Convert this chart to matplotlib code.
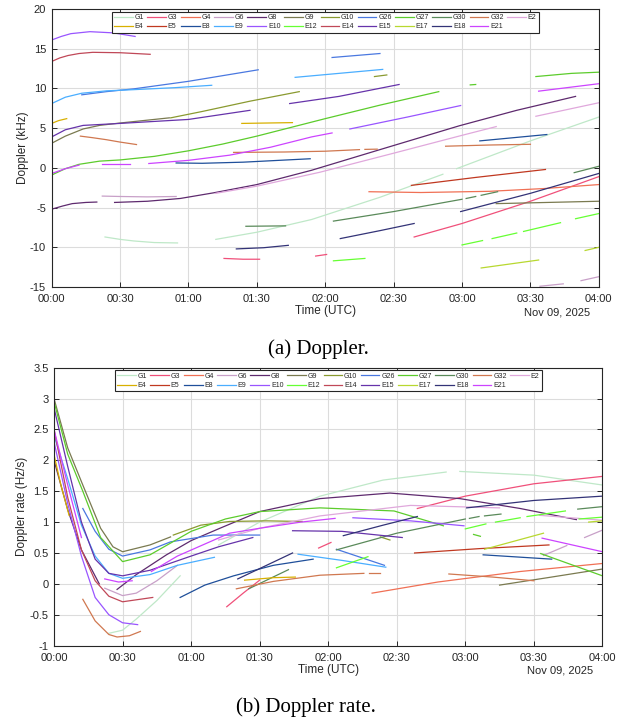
import matplotlib
matplotlib.use("Agg")
import matplotlib.pyplot as plt
from matplotlib.ticker import MultipleLocator, FuncFormatter

plt.rcParams['font.family'] = ['Liberation Sans', 'DejaVu Sans']

sats = ["G1", "G3", "G4", "G6", "G8", "G9", "G10", "G26", "G27", "G30", "G32", "E2",
        "E4", "E5", "E8", "E9", "E10", "E12", "E14", "E15", "E17", "E18", "E21"]
colors = ["#bfe8c8", "#f0507a", "#f07055", "#c8a0c8", "#5e2a6e", "#7a7a50", "#8a9a30",
          "#4a78e0", "#5ccc2c", "#5a8a5a", "#d07850", "#e0a8dc",
          "#d8b000", "#c03820", "#1f4f9a", "#4aaeff", "#9955ff", "#66ff33", "#c04858",
          "#6633aa", "#b8d830", "#333377", "#cc44ff"]

# passes as lists of (hour UTC, value); Doppler in kHz, rate in Hz/s
G1_dop = [[(0.39, -8.7), (0.5, -9.0), (0.6, -9.2), (0.75, -9.4), (0.92, -9.45)],
          [(1.2, -9.0), (1.5, -8.1), (1.9, -6.5), (2.4, -3.7), (2.86, -0.8)],
          [(2.96, -0.1), (3.5, 3.4), (4.0, 6.4)]]
G1_rate = [[(0.4, -0.8), (0.5, -0.75), (0.6, -0.57), (0.75, -0.27), (0.92, 0.13)],
           [(1.2, 0.63), (1.5, 1.0), (1.94, 1.42), (2.4, 1.68), (2.86, 1.81)],
           [(2.96, 1.82), (3.5, 1.76), (4.0, 1.6)]]

G3_dop = [[(1.26, -11.4), (1.4, -11.5), (1.52, -11.5)],
          [(1.93, -11.1), (2.01, -10.9)],
          [(2.65, -8.7), (3.0, -7.0), (3.5, -4.2), (4.0, -1.1)]]
G3_rate = [[(1.26, -0.37), (1.38, -0.15), (1.5, 0.06)],
           [(1.93, 0.58), (2.02, 0.67)],
           [(2.65, 1.22), (3.0, 1.42), (3.5, 1.62), (4.0, 1.74)]]

G4_dop = [[(2.32, -3.0), (2.7, -3.1), (3.2, -2.95), (3.6, -2.6), (4.0, -2.1)]]
G4_rate = [[(2.32, -0.15), (2.8, 0.03), (3.4, 0.2), (4.0, 0.33)]]

G6_dop = [[(0.37, -3.55), (0.5, -3.6), (0.7, -3.65), (0.91, -3.6)],
          [(3.57, -14.9), (3.74, -14.6)],
          [(3.87, -14.2), (4.0, -13.7)]]
G6_rate = [[(0.37, -0.07), (0.5, -0.19), (0.6, -0.15), (0.75, 0.05), (0.9, 0.3)],
           [(3.57, 0.46), (3.74, 0.62)],
           [(3.87, 0.75), (4.0, 0.87)]]

G8_dop = [[(0, -5.2), (0.08, -4.8), (0.15, -4.5), (0.25, -4.35), (0.33, -4.3)],
          [(0.46, -4.35), (0.7, -4.2), (0.94, -3.85), (1.18, -3.15), (1.5, -2.1), (1.9, -0.3),
           (2.4, 2.3), (2.98, 5.3), (3.4, 7.25), (3.83, 9.0)]]
G8_rate = [[(0, 2.0), (0.1, 1.2), (0.2, 0.55), (0.33, 0.0)],
           [(0.46, -0.09), (0.6, 0.15), (0.82, 0.47), (1.0, 0.7), (1.21, 0.9), (1.5, 1.17),
            (1.94, 1.38), (2.45, 1.47), (2.96, 1.38), (3.4, 1.22), (3.81, 1.04)]]

G9_dop = [[(0, 3.1), (0.1, 4.0), (0.23, 4.9), (0.35, 5.35), (0.5, 5.65), (0.86, 6.3)],
          [(3.25, -4.5), (4.0, -4.2)]]
G9_rate = [[(0, 3.0), (0.1, 2.2), (0.21, 1.6), (0.34, 0.9), (0.43, 0.6), (0.5, 0.52),
            (0.7, 0.63), (0.85, 0.76)],
           [(3.25, -0.02), (3.6, 0.1), (4.0, 0.24)]]

G10_dop = [[(0.87, 6.3), (1.1, 7.1), (1.45, 8.4), (1.81, 9.6)],
           [(2.36, 11.5), (2.45, 11.7)]]
G10_rate = [[(0.87, 0.79), (1.07, 0.95), (1.28, 1.01), (1.55, 1.02), (1.81, 1.01)],
            [(2.38, 0.76), (2.45, 0.71)]]

G26_dop = [[(0.22, 9.2), (0.4, 9.6), (0.6, 9.95), (1.0, 10.9), (1.51, 12.35)],
           [(2.05, 13.9), (2.4, 14.4)]]
G26_rate = [[(0.21, 1.22), (0.3, 0.85), (0.4, 0.56), (0.5, 0.45), (0.7, 0.55), (0.85, 0.68),
             (1.16, 0.79), (1.5, 0.79)],
            [(2.06, 0.56), (2.41, 0.3)]]

G27_dop = [[(0, -0.9), (0.1, -0.1), (0.2, 0.45), (0.35, 0.85), (0.5, 1.0), (0.75, 1.45),
            (1.0, 2.15), (1.25, 3.0), (1.5, 4.0), (1.75, 5.1), (2.0, 6.2), (2.4, 7.9), (2.83, 9.6)],
           [(3.06, 10.45), (3.1, 10.5)],
           [(3.54, 11.5), (3.8, 11.9), (4.0, 12.05)]]
G27_rate = [[(0, 2.95), (0.1, 2.1), (0.21, 1.5), (0.34, 0.75), (0.5, 0.36), (0.7, 0.47),
             (1.0, 0.85), (1.25, 1.05), (1.5, 1.17), (1.94, 1.23), (2.48, 1.18), (2.84, 0.94)],
            [(3.06, 0.8), (3.11, 0.77)],
            [(3.55, 0.49), (4.0, 0.13)]]

G30_dop = [[(1.42, -7.35), (1.71, -7.3)],
           [(2.06, -6.7), (2.5, -5.5), (3.0, -3.95)],
           [(3.03, -3.85), (3.1, -3.6)],
           [(3.14, -3.45), (3.26, -3.0)],
           [(3.82, -0.6), (4.0, 0.2)]]
G30_rate = [[(1.42, -0.08), (1.71, 0.23)],
            [(2.06, 0.55), (2.5, 0.82), (3.0, 1.05)],
            [(3.03, 1.06), (3.1, 1.09)],
            [(3.14, 1.1), (3.26, 1.13)],
            [(3.82, 1.21), (4.0, 1.25)]]

G32_dop = [[(0.21, 4.0), (0.3, 3.8), (0.4, 3.55), (0.5, 3.25), (0.62, 2.94)],
           [(1.33, 1.95), (1.7, 2.0), (2.0, 2.1), (2.25, 2.3)],
           [(2.29, 2.33), (2.38, 2.36)],
           [(2.88, 2.73), (3.2, 2.88), (3.5, 2.97)]]
G32_rate = [[(0.21, -0.25), (0.3, -0.6), (0.4, -0.82), (0.46, -0.86), (0.55, -0.84), (0.63, -0.77)],
            [(1.33, -0.08), (1.6, 0.04), (1.94, 0.14), (2.26, 0.17)],
            [(2.3, 0.18), (2.38, 0.18)],
            [(2.88, 0.16), (3.2, 0.11), (3.5, 0.05)]]

E2_dop = [[(1.2, -3.2), (1.5, -2.3), (1.96, -0.55), (2.5, 1.85), (3.0, 4.1), (3.25, 5.2)],
          [(3.54, 6.5), (4.0, 8.2)]]
E2_rate = [[(1.2, 0.71), (1.5, 0.9), (1.94, 1.1), (2.6, 1.27), (3.25, 1.23)],
           [(3.54, 1.11), (4.0, 1.03)]]

E4_dop = [[(0, 5.6), (0.05, 5.95), (0.11, 6.2)],
          [(1.39, 5.6), (1.76, 5.7)]]
E4_rate = [[(0, 2.09), (0.05, 1.6), (0.11, 1.11)],
           [(1.39, 0.06), (1.6, 0.1), (1.76, 0.11)]]

E5_dop = [[(2.63, -2.2), (3.1, -1.2), (3.61, -0.2)]]
E5_rate = [[(2.63, 0.5), (3.1, 0.57), (3.61, 0.63)]]

E8_dop = [[(0.91, 0.62), (1.1, 0.58), (1.4, 0.72), (1.89, 1.15)],
          [(3.13, 3.4), (3.62, 4.2)]]
E8_rate = [[(0.92, -0.22), (1.1, -0.02), (1.31, 0.13), (1.6, 0.3), (1.89, 0.4)],
           [(3.13, 0.47), (3.63, 0.4)]]

E9_dop = [[(0, 8.1), (0.1, 8.9), (0.22, 9.4), (0.4, 9.7), (0.6, 9.85), (0.9, 10.1), (1.17, 10.4)],
          [(1.78, 11.4), (2.1, 11.9), (2.42, 12.4)]]
E9_rate = [[(0, 2.4), (0.1, 1.7), (0.2, 0.95), (0.3, 0.45), (0.4, 0.17), (0.5, 0.09),
            (0.7, 0.15), (0.9, 0.3), (1.17, 0.43)],
           [(1.78, 0.48), (2.1, 0.38), (2.42, 0.27)]]

E10_dop = [[(0, 16.1), (0.07, 16.55), (0.14, 16.9), (0.28, 17.15), (0.45, 17.0), (0.61, 16.55)],
           [(2.18, 4.9), (2.6, 6.4), (2.99, 7.85)]]
E10_rate = [[(0, 2.3), (0.1, 1.3), (0.2, 0.45), (0.3, -0.22), (0.4, -0.5), (0.5, -0.63), (0.61, -0.66)],
            [(2.18, 1.07), (2.6, 1.02), (2.99, 0.94)]]

E12_dop = [[(2.06, -11.7), (2.29, -11.4)],
           [(3.0, -9.7), (3.15, -9.15)],
           [(3.22, -8.9), (3.4, -8.2)],
           [(3.45, -8.0), (3.72, -6.9)],
           [(3.83, -6.4), (4.0, -5.75)]]
E12_rate = [[(2.06, 0.26), (2.29, 0.44)],
            [(3.0, 0.89), (3.15, 0.97)],
            [(3.22, 1.0), (3.4, 1.07)],
            [(3.45, 1.09), (3.73, 1.18)],
            [(3.83, 1.05), (4.0, 1.08)]]

E14_dop = [[(0, 13.4), (0.06, 13.85), (0.12, 14.15), (0.2, 14.4), (0.3, 14.55), (0.5, 14.5), (0.72, 14.3)]]
E14_rate = [[(0, 2.5), (0.1, 1.4), (0.2, 0.55), (0.3, 0.05), (0.4, -0.2), (0.5, -0.29), (0.72, -0.22)]]

E15_dop = [[(0, 3.9), (0.1, 4.8), (0.23, 5.35), (0.5, 5.6), (1.0, 6.1), (1.45, 7.25)],
           [(1.74, 8.1), (2.1, 9.0), (2.54, 10.5)]]
E15_rate = [[(0, 2.85), (0.1, 1.9), (0.2, 1.0), (0.3, 0.4), (0.4, 0.17), (0.5, 0.13), (0.7, 0.22),
             (1.0, 0.45), (1.2, 0.6), (1.45, 0.75)],
            [(1.74, 0.86), (2.1, 0.85), (2.54, 0.75)]]

E17_dop = [[(3.14, -12.6), (3.56, -11.6)],
           [(3.9, -10.4), (4.0, -10.0)]]
E17_rate = [[(3.14, 0.56), (3.57, 0.82)],
            [(3.9, 1.0), (4.0, 1.02)]]

E18_dop = [[(1.35, -10.2), (1.55, -10.05), (1.73, -9.75)],
           [(2.11, -8.9), (2.4, -7.9), (2.65, -7.0)],
           [(2.99, -5.5), (3.5, -3.2), (4.0, -0.7)]]
E18_rate = [[(1.34, 0.08), (1.55, 0.3), (1.74, 0.5)],
            [(2.11, 0.78), (2.4, 0.95), (2.65, 1.09)],
            [(3.01, 1.23), (3.5, 1.35), (4.0, 1.42)]]

E21_dop = [[(0, -0.7), (0.1, -0.1), (0.2, 0.35)],
           [(0.37, 0.45), (0.57, 0.45)],
           [(0.71, 0.55), (1.0, 0.95), (1.3, 1.6), (1.6, 2.6), (1.9, 3.9), (2.05, 4.4)],
           [(3.56, 9.66), (4.0, 10.6)]]
E21_rate = [[(0, 2.5), (0.1, 1.6), (0.2, 0.75)],
            [(0.37, 0.08), (0.47, 0.03), (0.57, 0.05)],
            [(0.71, 0.2), (0.9, 0.45), (1.28, 0.82), (1.5, 0.9), (1.8, 1.0), (2.05, 1.06)],
            [(3.56, 0.74), (4.0, 0.52)]]

doppler = [G1_dop, G3_dop, G4_dop, G6_dop, G8_dop, G9_dop, G10_dop, G26_dop, G27_dop, G30_dop,
           G32_dop, E2_dop, E4_dop, E5_dop, E8_dop, E9_dop, E10_dop, E12_dop, E14_dop, E15_dop,
           E17_dop, E18_dop, E21_dop]
rate = [G1_rate, G3_rate, G4_rate, G6_rate, G8_rate, G9_rate, G10_rate, G26_rate, G27_rate,
        G30_rate, G32_rate, E2_rate, E4_rate, E5_rate, E8_rate, E9_rate, E10_rate, E12_rate,
        E14_rate, E15_rate, E17_rate, E18_rate, E21_rate]

dark = "#262626"


def hhmm(v, pos):
    m = int(round(v * 60))
    return f"{m // 60:02d}:{m % 60:02d}"


def draw(ax, series, ylo, yhi, ystep, ylabel):
    handles = {}
    for name, col, passes in zip(sats, colors, series):
        for seg in passes:
            t = [p[0] for p in seg]
            v = [p[1] for p in seg]
            ln, = ax.plot(t, v, color=col, lw=0.9)
        handles[name] = ln
    ax.set_xlim(0, 4)
    ax.set_ylim(ylo, yhi)
    ax.xaxis.set_major_locator(MultipleLocator(0.5))
    ax.xaxis.set_major_formatter(FuncFormatter(hhmm))
    ax.yaxis.set_major_locator(MultipleLocator(ystep))
    ax.yaxis.set_major_formatter(FuncFormatter(lambda v, p: f"{v:g}"))
    ax.grid(True, color="#dcdcdc", lw=0.8)
    ax.set_axisbelow(True)
    ax.tick_params(direction="in", top=True, right=True, length=3.5, width=0.7,
                   labelsize=8, colors=dark)
    ax.tick_params(axis="x", pad=5)
    ax.tick_params(axis="y", pad=4)
    for s in ax.spines.values():
        s.set_color(dark)
        s.set_linewidth(0.8)
    ax.set_xlabel("Time (UTC)", fontsize=8.5, color=dark, labelpad=1)
    ax.set_ylabel(ylabel, fontsize=8.5, color=dark, labelpad=1)
    ax.text(0.923, -0.09, "Nov 09, 2025", transform=ax.transAxes, ha="center", va="center",
            fontsize=8, color=dark)

    # row-wise legend order (matplotlib fills columns first)
    order = []
    for j in range(12):
        order.append(sats[j])
        if j + 12 < len(sats):
            order.append(sats[j + 12])
    leg = ax.legend([handles[n] for n in order], order, loc="upper center",
                    bbox_to_anchor=(0.5, 1.0), ncol=12, fontsize=5, frameon=True,
                    fancybox=False, edgecolor=dark, framealpha=1, handlelength=2.7,
                    handletextpad=0.25, columnspacing=0.5, labelspacing=0.3,
                    borderpad=0.35, borderaxespad=0.4)
    leg.get_frame().set_linewidth(0.8)
    for txt in leg.get_texts():
        txt.set_color(dark)


fig = plt.figure(figsize=(6.34, 7.23), dpi=100)
ax1 = fig.add_axes([0.0815, 0.603, 0.863, 0.3845])
ax2 = fig.add_axes([0.0852, 0.107, 0.865, 0.3845])

draw(ax1, doppler, -15, 20, 5, "Doppler (kHz)")
draw(ax2, rate, -1, 3.5, 0.5, "Doppler rate (Hz/s)")

fig.text(0.502, 1 - 349 / 723, "(a) Doppler.", ha="center", va="center",
         fontsize=15, family="Liberation Serif")
fig.text(0.482, 1 - 707 / 723, "(b) Doppler rate.", ha="center", va="center",
         fontsize=15, family="Liberation Serif")

fig.savefig("out.png", dpi=100)
